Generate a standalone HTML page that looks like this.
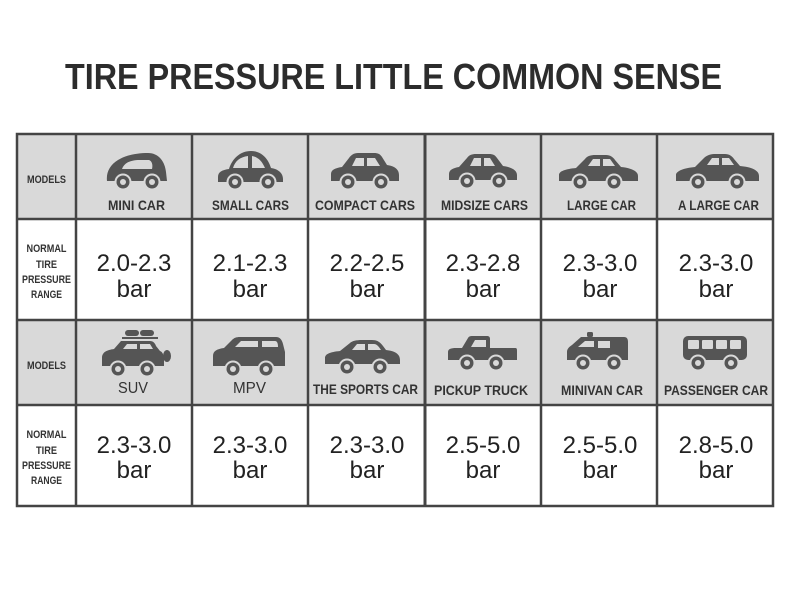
<!DOCTYPE html>
<html><head><meta charset="utf-8"><style>
html,body{margin:0;padding:0;background:#fff;}
svg{display:block;}
</style></head><body>
<svg width="790" height="595" viewBox="0 0 790 595" xmlns="http://www.w3.org/2000/svg" font-family="'Liberation Sans', sans-serif">
<rect width="790" height="595" fill="#fff"/>
<text x="65" y="89" font-size="36" font-weight="bold" fill="#2c2c2c" textLength="657" lengthAdjust="spacingAndGlyphs">TIRE PRESSURE LITTLE COMMON SENSE</text>

<!-- header fills -->
<rect x="17" y="134" width="756" height="85" fill="#d9d9d9"/>
<rect x="17" y="320" width="756" height="85" fill="#d9d9d9"/>
<rect x="17" y="219" width="756" height="101" fill="#fff"/>
<rect x="17" y="405" width="756" height="101" fill="#fff"/>

<!-- icons -->
<g fill="#555">
 <!-- mini -->
 <path d="M107,181 C106,172 110,165 118,160 C126,155 137,153 148,153 C159,153 165,162 166,172 L167,181 Z"/>
 <path d="M122,169 C124,163 130,160 140,160 L149,160 C152,161 153,165 152,169 Z" fill="#d9d9d9"/>
 <!-- small -->
 <path d="M218,182 L218,177 C218,172 222,170 229,169 C232,159 240,151 251,151 C261,151 268,158 271,168 C278,169 283,173 283,179 L283,182 Z"/>
 <path d="M233,168 C235,161 240,157 248,156 L248,168 Z M252,156 C258,157 262,161 265,168 L252,168 Z" fill="#d9d9d9"/>
 <!-- compact -->
 <path d="M331,181 L331,174 C331,170 335,168 342,167 L349,158 C351,155 354,153 358,153 L374,153 C378,153 380,154 382,157 L387,165 C394,166 399,169 399,175 L399,181 Z"/>
 <path d="M352,166 L356,158 L364,158 L364,166 Z M367,158 L375,158 L380,166 L367,166 Z" fill="#d9d9d9"/>
 <!-- midsize -->
 <path d="M449,180 L449,174 C449,170 453,168 459,167 L467,158 C469,155 472,154 476,154 L489,154 C493,154 495,155 497,158 L503,166 C511,167 517,170 517,175 L517,180 Z"/>
 <path d="M470,166 L474,158 L481,158 L481,166 Z M484,158 L490,158 L495,166 L484,166 Z" fill="#d9d9d9"/>
 <!-- large -->
 <path d="M559,181 L559,175 C559,171 566,169 576,168 L585,159 C587,156 591,155 595,155 L606,155 C610,155 613,157 615,160 L621,167 C631,168 638,171 638,176 L638,181 Z"/>
 <path d="M588,166 L593,159 L600,159 L600,166 Z M603,159 L610,159 L615,166 L603,166 Z" fill="#d9d9d9"/>
 <!-- a large -->
 <path d="M676,181 L676,175 C676,171 684,168 695,167 L704,158 C706,156 710,154 714,154 L725,154 C729,154 732,156 734,159 L740,166 C751,167 759,170 759,176 L759,181 Z"/>
 <path d="M707,165 L712,158 L719,158 L719,165 Z M722,158 L729,158 L734,165 L722,165 Z" fill="#d9d9d9"/>

 <!-- SUV -->
 <rect x="125" y="330" width="14" height="6" rx="3"/>
 <rect x="140" y="330" width="14" height="6" rx="3"/>
 <rect x="122" y="337" width="36" height="2"/>
 <path d="M102,366 L102,358 C102,352 107,350 114,349 L121,341 L150,341 C153,341 155,343 156,346 L160,351 C163,352 164,356 164,360 L164,366 Z"/>
 <path d="M123,349 L127,344 L137,344 L137,349 Z M140,344 L150,344 L153,349 L140,349 Z" fill="#d9d9d9"/>
 <ellipse cx="167" cy="356" rx="4" ry="6"/>
 <!-- MPV -->
 <path d="M213,366 L213,356 C213,351 217,349 224,348 L232,340 C234,338 236,337 240,337 L276,337 C280,337 282,340 283,344 L285,352 L285,366 Z"/>
 <path d="M235,347 L241,341 L258,341 L258,347 Z M262,341 L275,341 C277,341 278,343 278,347 L262,347 Z" fill="#d9d9d9"/>
 <!-- sports -->
 <path d="M325,364 L325,358 C325,354 330,352 340,351 L350,343 C352,341 356,340 362,340 L372,340 C377,340 380,342 383,346 L386,350 C395,351 400,354 400,360 L400,364 Z"/>
 <path d="M352,350 L357,344 L365,344 L365,350 Z M368,344 L374,344 C377,344 379,347 381,350 L368,350 Z" fill="#d9d9d9"/>
 <!-- pickup -->
 <path d="M448,360 L448,352 C448,349 451,348 456,348 L462,348 L468,338 C469,336 471,336 473,336 L487,336 C489,336 490,337 490,339 L490,348 L515,348 C517,348 517,349 517,351 L517,360 Z"/>
 <path d="M471,347 L475,340 L486,340 L486,347 Z" fill="#d9d9d9"/>
 <!-- minivan -->
 <rect x="587" y="332" width="6" height="5" rx="1.5"/>
 <path d="M567,360 L567,352 C567,349 569,347 572,345 L581,337 L624,337 C627,337 628,339 628,342 L628,360 Z"/>
 <path d="M578,347 L585,341 L594,341 L594,347 Z" fill="#d9d9d9"/>
 <rect x="598" y="341" width="12" height="7" fill="#d9d9d9"/>
 <!-- bus -->
 <rect x="683" y="336" width="64" height="24" rx="5"/>
 <g fill="#d9d9d9">
  <rect x="688" y="340" width="11" height="9" rx="1"/>
  <rect x="702" y="340" width="11" height="9" rx="1"/>
  <rect x="716" y="340" width="11" height="9" rx="1"/>
  <rect x="730" y="340" width="11" height="9" rx="1"/>
 </g>
</g>

<!-- wheels -->
<g id="wheels">
 <g fill="#d9d9d9">
  <circle cx="123" cy="182" r="8.5"/><circle cx="152" cy="182" r="8.5"/>
  <circle cx="235" cy="182" r="8.5"/><circle cx="268" cy="182" r="8.5"/>
  <circle cx="348" cy="182" r="8.5"/><circle cx="381" cy="182" r="8.5"/>
  <circle cx="467" cy="181" r="8.5"/><circle cx="499" cy="181" r="8.5"/>
  <circle cx="580" cy="182" r="8.5"/><circle cx="614" cy="182" r="8.5"/>
  <circle cx="698" cy="182" r="8.5"/><circle cx="737" cy="182" r="8.5"/>
  <circle cx="118" cy="369" r="8.5"/><circle cx="147" cy="369" r="8.5"/>
  <circle cx="233" cy="369" r="8.5"/><circle cx="266" cy="369" r="8.5"/>
  <circle cx="347" cy="367" r="8.5"/><circle cx="380" cy="367" r="8.5"/>
  <circle cx="467" cy="363" r="8.5"/><circle cx="496" cy="363" r="8.5"/>
  <circle cx="583" cy="363" r="8.5"/><circle cx="614" cy="363" r="8.5"/>
  <circle cx="698" cy="363" r="8.5"/><circle cx="731" cy="363" r="8.5"/>
 </g>
 <g fill="#555">
  <circle cx="123" cy="182" r="6.5"/><circle cx="152" cy="182" r="6.5"/>
  <circle cx="235" cy="182" r="6.5"/><circle cx="268" cy="182" r="6.5"/>
  <circle cx="348" cy="182" r="6.5"/><circle cx="381" cy="182" r="6.5"/>
  <circle cx="467" cy="181" r="6.5"/><circle cx="499" cy="181" r="6.5"/>
  <circle cx="580" cy="182" r="6.5"/><circle cx="614" cy="182" r="6.5"/>
  <circle cx="698" cy="182" r="6.5"/><circle cx="737" cy="182" r="6.5"/>
  <circle cx="118" cy="369" r="6.5"/><circle cx="147" cy="369" r="6.5"/>
  <circle cx="233" cy="369" r="6.5"/><circle cx="266" cy="369" r="6.5"/>
  <circle cx="347" cy="367" r="6.5"/><circle cx="380" cy="367" r="6.5"/>
  <circle cx="467" cy="363" r="6.5"/><circle cx="496" cy="363" r="6.5"/>
  <circle cx="583" cy="363" r="6.5"/><circle cx="614" cy="363" r="6.5"/>
  <circle cx="698" cy="363" r="6.5"/><circle cx="731" cy="363" r="6.5"/>
 </g>
 <g fill="#d9d9d9">
  <circle cx="123" cy="182" r="3"/><circle cx="152" cy="182" r="3"/>
  <circle cx="235" cy="182" r="3"/><circle cx="268" cy="182" r="3"/>
  <circle cx="348" cy="182" r="3"/><circle cx="381" cy="182" r="3"/>
  <circle cx="467" cy="181" r="3"/><circle cx="499" cy="181" r="3"/>
  <circle cx="580" cy="182" r="3"/><circle cx="614" cy="182" r="3"/>
  <circle cx="698" cy="182" r="3"/><circle cx="737" cy="182" r="3"/>
  <circle cx="118" cy="369" r="3"/><circle cx="147" cy="369" r="3"/>
  <circle cx="233" cy="369" r="3"/><circle cx="266" cy="369" r="3"/>
  <circle cx="347" cy="367" r="3"/><circle cx="380" cy="367" r="3"/>
  <circle cx="467" cy="363" r="3"/><circle cx="496" cy="363" r="3"/>
  <circle cx="583" cy="363" r="3"/><circle cx="614" cy="363" r="3"/>
  <circle cx="698" cy="363" r="3"/><circle cx="731" cy="363" r="3"/>
 </g>
</g>

<!-- labels -->
<g fill="#333" font-weight="bold" font-size="14">
 <text x="108" y="210" textLength="57" lengthAdjust="spacingAndGlyphs">MINI CAR</text>
 <text x="212" y="210" textLength="77" lengthAdjust="spacingAndGlyphs">SMALL CARS</text>
 <text x="315" y="210" textLength="100" lengthAdjust="spacingAndGlyphs">COMPACT CARS</text>
 <text x="441" y="210" textLength="87" lengthAdjust="spacingAndGlyphs">MIDSIZE CARS</text>
 <text x="567" y="210" textLength="69" lengthAdjust="spacingAndGlyphs">LARGE CAR</text>
 <text x="678" y="210" textLength="81" lengthAdjust="spacingAndGlyphs">A LARGE CAR</text>
 <text x="313" y="394" textLength="105" lengthAdjust="spacingAndGlyphs">THE SPORTS CAR</text>
 <text x="434" y="395" textLength="94" lengthAdjust="spacingAndGlyphs">PICKUP TRUCK</text>
 <text x="561" y="395" textLength="82" lengthAdjust="spacingAndGlyphs">MINIVAN CAR</text>
 <text x="664" y="395" textLength="104" lengthAdjust="spacingAndGlyphs">PASSENGER CAR</text>
</g>
<g fill="#333" font-size="16">
 <text x="118" y="393" textLength="30" lengthAdjust="spacingAndGlyphs">SUV</text>
 <text x="233" y="393" textLength="33" lengthAdjust="spacingAndGlyphs">MPV</text>
</g>

<!-- left column -->
<g fill="#333" font-weight="bold" font-size="11" text-anchor="middle">
 <text x="46.5" y="183" textLength="39" lengthAdjust="spacingAndGlyphs">MODELS</text>
 <text x="46.5" y="369" textLength="39" lengthAdjust="spacingAndGlyphs">MODELS</text>
 <text x="46.5" y="252" textLength="40" lengthAdjust="spacingAndGlyphs">NORMAL</text>
 <text x="46.5" y="268" textLength="21" lengthAdjust="spacingAndGlyphs">TIRE</text>
 <text x="46.5" y="283" textLength="49" lengthAdjust="spacingAndGlyphs">PRESSURE</text>
 <text x="46.5" y="298" textLength="31" lengthAdjust="spacingAndGlyphs">RANGE</text>
 <text x="46.5" y="438" textLength="40" lengthAdjust="spacingAndGlyphs">NORMAL</text>
 <text x="46.5" y="454" textLength="21" lengthAdjust="spacingAndGlyphs">TIRE</text>
 <text x="46.5" y="469" textLength="49" lengthAdjust="spacingAndGlyphs">PRESSURE</text>
 <text x="46.5" y="484" textLength="31" lengthAdjust="spacingAndGlyphs">RANGE</text>
</g>

<!-- values -->
<g fill="#222" font-size="24" text-anchor="middle">
 <text x="134" y="271">2.0-2.3</text><text x="134" y="297">bar</text>
 <text x="250" y="271">2.1-2.3</text><text x="250" y="297">bar</text>
 <text x="367" y="271">2.2-2.5</text><text x="367" y="297">bar</text>
 <text x="483" y="271">2.3-2.8</text><text x="483" y="297">bar</text>
 <text x="600" y="271">2.3-3.0</text><text x="600" y="297">bar</text>
 <text x="716" y="271">2.3-3.0</text><text x="716" y="297">bar</text>
 <text x="134" y="453">2.3-3.0</text><text x="134" y="478">bar</text>
 <text x="250" y="453">2.3-3.0</text><text x="250" y="478">bar</text>
 <text x="367" y="453">2.3-3.0</text><text x="367" y="478">bar</text>
 <text x="483" y="453">2.5-5.0</text><text x="483" y="478">bar</text>
 <text x="600" y="453">2.5-5.0</text><text x="600" y="478">bar</text>
 <text x="716" y="453">2.8-5.0</text><text x="716" y="478">bar</text>
</g>

<!-- grid -->
<g stroke="#444" stroke-width="2.5" fill="none">
 <rect x="17" y="134" width="756" height="372"/>
 <line x1="17" y1="219" x2="773" y2="219"/>
 <line x1="17" y1="320" x2="773" y2="320"/>
 <line x1="17" y1="405" x2="773" y2="405"/>
 <line x1="76" y1="134" x2="76" y2="506"/>
 <line x1="192" y1="134" x2="192" y2="506"/>
 <line x1="308" y1="134" x2="308" y2="506"/>
 <line x1="425" y1="134" x2="425" y2="506" stroke-width="3"/>
 <line x1="541" y1="134" x2="541" y2="506"/>
 <line x1="657" y1="134" x2="657" y2="506"/>
</g>
</svg>
</body></html>
